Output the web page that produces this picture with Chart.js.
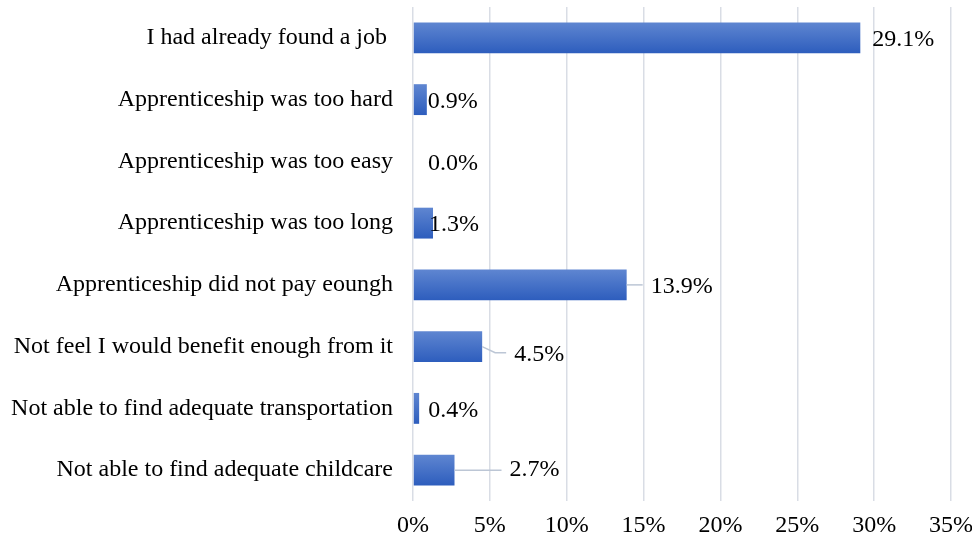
<!DOCTYPE html>
<html>
<head>
<meta charset="utf-8">
<script src="https://cdn.jsdelivr.net/npm/chart.js@4"></script>
<style>
  html, body { margin: 0; padding: 0; background: #fff; }
  #wrap { width: 972px; height: 540px; }
</style>
</head>
<body>
<div id="wrap"><canvas id="reasons"></canvas></div>
<script>
var reasons = [
  "I had already found a job ",
  "Apprenticeship was too hard",
  "Apprenticeship was too easy",
  "Apprenticeship was too long",
  "Apprenticeship did not pay eoungh",
  "Not feel I would benefit enough from it",
  "Not able to find adequate transportation",
  "Not able to find adequate childcare"
];
var shares = [29.1, 0.9, 0.0, 1.3, 13.9, 4.5, 0.4, 2.7];
var tickStep = 5;
var tickMax = 35;

var serif = "'Liberation Serif', 'Times New Roman', serif";

// label nudges (px from bar end), a few labels sit out with a leader line
var labelShift = [
  { dx: 12, dy: 2 },
  { dx: 1, dy: 2 },
  { dx: 15, dy: 2 },
  { dx: -4, dy: 2 },
  { dx: 24, dy: 2 },
  { dx: 32, dy: 8 },
  { dx: 9, dy: 2 },
  { dx: 55, dy: 0 }
];

function barFill(context) {
  var chart = context.chart;
  var y = chart.scales.y;
  if (!chart.chartArea || !y || context.dataIndex === undefined) return "#3d6cc8";
  var yc = y.getPixelForValue(context.dataIndex);
  var half = 15.5;
  var g = chart.ctx.createLinearGradient(0, yc - half, 0, yc + half);
  g.addColorStop(0, "#5f86d1");
  g.addColorStop(1, "#2d5dbd");
  return g;
}

var valueLabels = {
  id: "valueLabels",
  afterDatasetsDraw: function (chart) {
    var ctx = chart.ctx;
    var meta = chart.getDatasetMeta(0);
    ctx.save();
    ctx.font = "24px " + serif;
    ctx.fillStyle = "#000";
    ctx.textAlign = "left";
    ctx.textBaseline = "middle";
    meta.data.forEach(function (bar, i) {
      var s = labelShift[i];
      var tx = bar.x + s.dx;
      var ty = bar.y + s.dy;
      if (s.dx > 20) {
        ctx.strokeStyle = "#bcc6d5";
        ctx.lineWidth = 1.5;
        ctx.beginPath();
        ctx.moveTo(bar.x, bar.y);
        if (s.dy > 4) ctx.lineTo(bar.x + 13, ty - 2);
        ctx.lineTo(tx - 8, bar.y + (s.dy > 4 ? s.dy - 2 : 0));
        ctx.stroke();
      }
      ctx.fillText(shares[i].toFixed(1) + "%", tx, ty);
    });
    ctx.restore();
  }
};

var config = {
  type: "bar",
  data: {
    labels: reasons,
    datasets: [{
      data: shares,
      backgroundColor: barFill,
      borderWidth: 0,
      barPercentage: 0.5,
      categoryPercentage: 1.0
    }]
  },
  options: {
    indexAxis: "y",
    responsive: true,
    maintainAspectRatio: false,
    animation: false,
    layout: { padding: { top: 7, right: 21, bottom: 0, left: 0 } },
    plugins: {
      legend: { display: false },
      tooltip: { enabled: false }
    },
    scales: {
      x: {
        min: 0,
        max: tickMax,
        border: { display: false },
        grid: { color: "#d9dde5", lineWidth: 1.5, drawTicks: false },
        ticks: {
          stepSize: tickStep,
          padding: 10,
          maxRotation: 0,
          color: "#000",
          font: { family: serif, size: 24 },
          callback: function (v) { return v + "%"; }
        },
        afterFit: function (scale) {
          scale.height = 39;
          scale.paddingRight = 0;
          scale.paddingLeft = 0;
        }
      },
      y: {
        border: { display: false },
        grid: { display: false, drawTicks: false },
        ticks: {
          padding: 20,
          color: "#000",
          font: { family: serif, size: 24 }
        },
        afterFit: function (scale) {
          scale.width = 413;
          scale.paddingTop = 0;
          scale.paddingBottom = 0;
        }
      }
    }
  },
  plugins: [valueLabels]
};

var reasonChart = new Chart(document.getElementById("reasons"), config);
</script>
</body>
</html>
